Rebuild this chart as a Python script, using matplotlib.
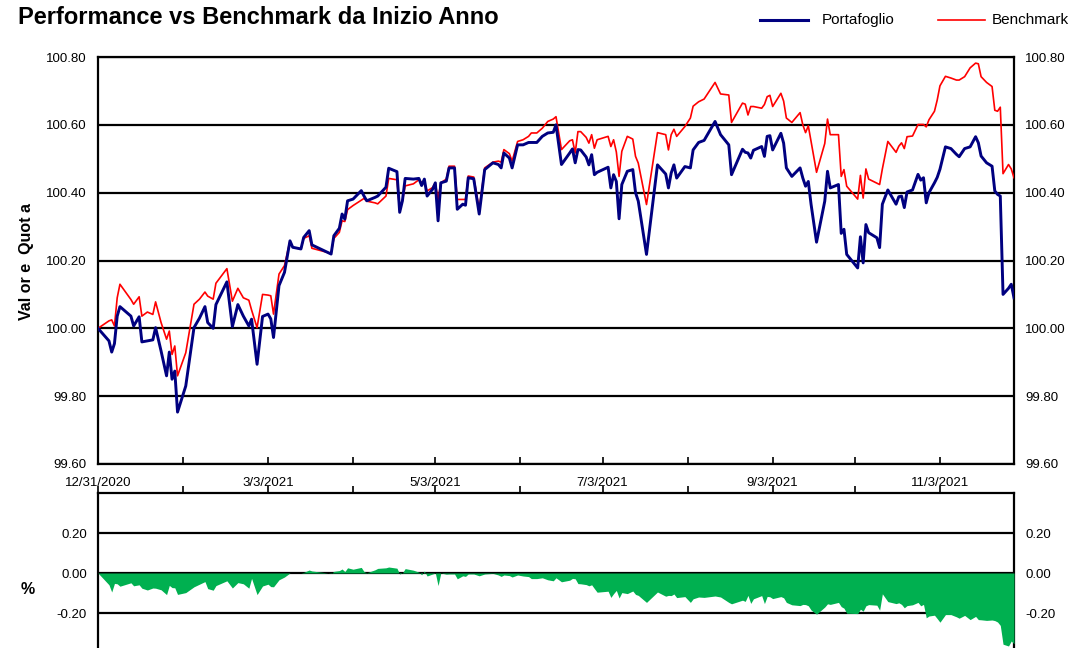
import numpy as np
import pandas as pd
import matplotlib
matplotlib.use('Agg')
import matplotlib.pyplot as plt
from matplotlib.lines import Line2D

plt.rcParams['font.family'] = ['Liberation Sans', 'DejaVu Sans']

# giorni dal 31/12/2020
giorni = [0, 4, 5, 6, 7, 8, 12, 13, 15, 16, 18, 20, 21, 23, 25, 26, 27, 28, 29, 32,
          35, 37, 39, 40, 42, 43, 47, 49, 51, 53, 55, 56, 58, 60, 62, 63, 64, 66, 68, 70,
          71, 74, 75, 77, 78, 85, 86, 88, 89, 90, 91, 93, 96, 97, 98, 101, 102, 105, 106, 109,
          110, 111, 112, 115, 117, 118, 119, 120, 122, 123, 124, 125, 127, 128, 130, 131, 133, 134, 135, 137,
          139, 141, 144, 146, 147, 148, 150, 151, 153, 155, 157, 158, 160, 162, 164, 166, 167, 169, 172, 173,
          174, 175, 176, 178, 179, 180, 181, 182, 186, 187, 188, 189, 190, 191, 193, 195, 196, 197, 200, 204,
          207, 208, 209, 210, 211, 214, 216, 217, 219, 221, 225, 227, 230, 231, 235, 236, 237, 238, 239, 242,
          243, 244, 245, 246, 249, 250, 251, 253, 256, 257, 258, 259, 260, 262, 265, 266, 267, 270, 271, 272,
          273, 277, 278, 279, 280, 281, 284, 285, 286, 288, 291, 292, 293, 294, 295, 297, 299, 300, 301, 302,
          303, 305, 306, 307, 309, 311, 313, 314, 316, 318, 320, 321, 322, 324, 326, 327, 328, 329, 330, 332,
          333, 334]

portafoglio = [100.000, 99.963, 99.930, 99.955, 100.036, 100.064, 100.036, 100.007, 100.034, 99.960,
               99.963, 99.966, 100.002, 99.933, 99.860, 99.930, 99.850, 99.874, 99.753, 99.830,
               100.002, 100.030, 100.064, 100.017, 100.000, 100.070, 100.137, 100.005, 100.070, 100.036,
               100.007, 100.027, 99.894, 100.035, 100.042, 100.028, 99.973, 100.126, 100.165, 100.258,
               100.239, 100.234, 100.268, 100.288, 100.246, 100.219, 100.273, 100.295, 100.337, 100.322,
               100.376, 100.381, 100.406, 100.390, 100.376, 100.386, 100.390, 100.416, 100.472, 100.462,
               100.342, 100.376, 100.442, 100.440, 100.442, 100.421, 100.440, 100.390, 100.410, 100.429,
               100.317, 100.429, 100.434, 100.473, 100.473, 100.351, 100.366, 100.363, 100.444, 100.441,
               100.337, 100.468, 100.488, 100.483, 100.473, 100.517, 100.502, 100.473, 100.541, 100.541,
               100.548, 100.548, 100.548, 100.566, 100.576, 100.578, 100.600, 100.483, 100.517, 100.529,
               100.488, 100.527, 100.526, 100.505, 100.482, 100.512, 100.453, 100.460, 100.475, 100.414,
               100.453, 100.433, 100.323, 100.424, 100.463, 100.468, 100.400, 100.375, 100.218, 100.482,
               100.455, 100.414, 100.458, 100.482, 100.443, 100.477, 100.473, 100.526, 100.548, 100.554,
               100.610, 100.571, 100.541, 100.453, 100.528, 100.519, 100.517, 100.502, 100.525, 100.536,
               100.507, 100.566, 100.568, 100.526, 100.575, 100.546, 100.473, 100.448, 100.473, 100.443,
               100.419, 100.433, 100.366, 100.254, 100.375, 100.463, 100.414, 100.424, 100.280, 100.292,
               100.218, 100.178, 100.270, 100.193, 100.306, 100.282, 100.267, 100.238, 100.366, 100.408,
               100.366, 100.388, 100.390, 100.356, 100.402, 100.408, 100.454, 100.437, 100.444, 100.370,
               100.400, 100.429, 100.445, 100.469, 100.535, 100.530, 100.513, 100.506, 100.530, 100.535,
               100.565, 100.547, 100.508, 100.488, 100.478, 100.405, 100.395, 100.390, 100.100, 100.118,
               100.130, 100.090]

benchmark = [100.000, 100.022, 100.025, 100.007, 100.090, 100.130, 100.085, 100.071, 100.093, 100.036,
             100.048, 100.041, 100.078, 100.017, 99.968, 99.992, 99.923, 99.948, 99.860, 99.928,
             100.071, 100.086, 100.107, 100.095, 100.086, 100.133, 100.176, 100.080, 100.118, 100.090,
             100.083, 100.054, 100.002, 100.100, 100.098, 100.096, 100.042, 100.160, 100.185, 100.258,
             100.239, 100.234, 100.265, 100.273, 100.236, 100.221, 100.265, 100.283, 100.317, 100.315,
             100.350, 100.362, 100.378, 100.383, 100.375, 100.370, 100.367, 100.390, 100.442, 100.438,
             100.347, 100.376, 100.420, 100.426, 100.438, 100.430, 100.430, 100.405, 100.415, 100.429,
             100.380, 100.429, 100.440, 100.478, 100.478, 100.380, 100.380, 100.380, 100.449, 100.446,
             100.351, 100.473, 100.490, 100.493, 100.490, 100.527, 100.515, 100.493, 100.551, 100.556,
             100.566, 100.576, 100.576, 100.590, 100.610, 100.617, 100.624, 100.527, 100.553, 100.556,
             100.517, 100.580, 100.580, 100.563, 100.546, 100.571, 100.531, 100.556, 100.566, 100.536,
             100.556, 100.520, 100.448, 100.522, 100.566, 100.558, 100.507, 100.487, 100.365, 100.577,
             100.571, 100.526, 100.571, 100.587, 100.566, 100.595, 100.620, 100.655, 100.668, 100.676,
             100.725, 100.691, 100.688, 100.607, 100.664, 100.661, 100.629, 100.654, 100.654, 100.649,
             100.660, 100.683, 100.687, 100.654, 100.693, 100.670, 100.620, 100.607, 100.636, 100.600,
             100.577, 100.597, 100.551, 100.460, 100.545, 100.617, 100.571, 100.571, 100.448, 100.468,
             100.419, 100.381, 100.451, 100.384, 100.470, 100.440, 100.428, 100.424, 100.470, 100.551,
             100.519, 100.537, 100.547, 100.530, 100.565, 100.567, 100.601, 100.601, 100.601, 100.594,
             100.615, 100.640, 100.673, 100.715, 100.743, 100.738, 100.732, 100.732, 100.742, 100.768,
             100.782, 100.780, 100.742, 100.725, 100.713, 100.643, 100.640, 100.652, 100.456, 100.483,
             100.470, 100.444]

tick_major = ['2020-12-31', '2021-03-03', '2021-05-03', '2021-07-03', '2021-09-03', '2021-11-03']
tick_minor = ['2021-01-31', '2021-04-03', '2021-06-03', '2021-08-03', '2021-10-03']

date = pd.Timestamp('2020-12-31') + pd.to_timedelta(giorni, unit='D')
p = np.array(portafoglio)
b = np.array(benchmark)
diff = p - b

fig = plt.figure(figsize=(10.70, 6.48), dpi=100)
W, H = 1070, 648

ax = fig.add_axes([98 / W, 1 - 464 / H, 916 / W, 407 / H])
ax2 = fig.add_axes([98 / W, 1 - 653 / H, 916 / W, 160 / H])

ax.plot(date, b, color='#ff0000', lw=1.2, zorder=3)
ax.plot(date, p, color='#000080', lw=2.1, zorder=4)

xmin, xmax = date[0], date[-1]
for a in (ax, ax2):
    a.set_xlim(xmin, xmax)
    for s in a.spines.values():
        s.set_linewidth(1.6)
    a.set_axisbelow(True)
    a.yaxis.grid(True, color='black', lw=1.6)
    a.tick_params(axis='y', length=0, labelsize=9.5, labelright=True, pad=8)

ax.set_ylim(99.6, 100.8)
ax.set_yticks(np.arange(99.6, 100.81, 0.2))
ax.set_yticklabels(['%.2f' % v for v in np.arange(99.6, 100.81, 0.2)])

maj = pd.to_datetime(tick_major)
ax.set_xticks(maj)
ax.set_xticklabels(['%d/%d/%d' % (d.month, d.day, d.year) for d in maj])
ax.set_xticks(pd.to_datetime(tick_minor), minor=True)
ax.tick_params(axis='x', which='both', direction='in', length=5, width=1.2,
               labelsize=9.5, pad=9)

ax2.fill_between(date, 0, diff, color='#00b050', lw=0, zorder=3)
ax2.set_ylim(-0.4, 0.4)
ax2.set_yticks([-0.4, -0.2, 0.0, 0.2])
ax2.set_yticklabels(['', '-0.20', '0.00', '0.20'])
ax2.xaxis.tick_top()
ax2.set_xticks(maj)
ax2.set_xticks(pd.to_datetime(tick_minor), minor=True)
ax2.tick_params(axis='x', which='both', direction='out', length=5, width=1.2,
                labeltop=False, labelbottom=False)

fig.text(18 / W, 1 - 18 / H, 'Performance vs Benchmark da Inizio Anno',
         fontsize=17, fontweight='bold', ha='left', va='center')

fig.add_artist(Line2D([760 / W, 808 / W], [1 - 20 / H, 1 - 20 / H], color='#000080', lw=2.2))
fig.text(822 / W, 1 - 20 / H, 'Portafoglio', fontsize=11, ha='left', va='center')
fig.add_artist(Line2D([938 / W, 985 / W], [1 - 20 / H, 1 - 20 / H], color='#ff0000', lw=1.2))
fig.text(992 / W, 1 - 20 / H, 'Benchmark', fontsize=11, ha='left', va='center')

fig.text(27 / W, 1 - 262 / H, 'Val or e  Quot a', rotation=90, fontsize=11.5,
         fontweight='bold', ha='center', va='center')
fig.text(28 / W, 1 - 590 / H, '%', fontsize=11.5, fontweight='bold', ha='center', va='center')

fig.savefig('out.png', dpi=100)
